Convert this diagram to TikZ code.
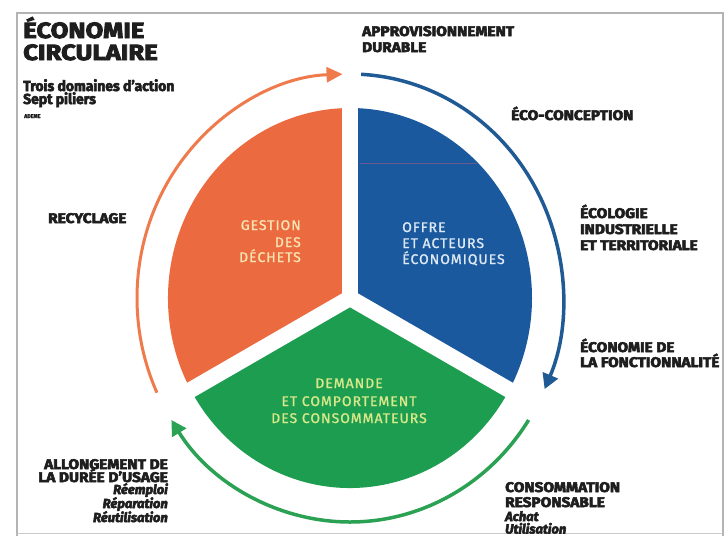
\documentclass[tikz,border=0pt]{standalone}
\usepackage{fontspec}
\setmainfont{Fira Sans}
\newfontfamily\titlefont{Fira Sans}[FakeStretch=1.17,BoldFeatures={FakeBold=4}]
\newfontfamily\capsfont{Fira Sans}[FakeStretch=1.1,BoldFeatures={FakeBold=4}]
\newfontfamily\mixedfont{Fira Sans}[FakeStretch=0.96,BoldFeatures={FakeBold=4}]
\newfontfamily\subfont{Fira Sans}[FakeStretch=1.0,BoldItalicFeatures={FakeBold=4}]
\newfontfamily\wedgefont{Fira Sans}[LetterSpace=7,FakeBold=1.2]
\usetikzlibrary{arrows.meta}
\definecolor{inkdark}{HTML}{1E1E1E}
\definecolor{wedgeorange}{HTML}{EB6A40}
\definecolor{wedgeblue}{HTML}{1B599F}
\definecolor{wedgegreen}{HTML}{1C9D4F}
\definecolor{ringorange}{HTML}{EF7B4C}
\definecolor{ringblue}{HTML}{1F5A95}
\definecolor{ringgreen}{HTML}{2BA153}
\definecolor{textcream}{HTML}{FAE4B2}
\definecolor{textpale}{HTML}{DCE9F5}
\definecolor{textlime}{HTML}{D8E78A}
\definecolor{framegrey}{HTML}{B4B4B4}
\definecolor{streak}{HTML}{8A5A8C}
\tikzset{
  titletext/.style={font=\titlefont\bfseries\fontsize{22}{24}\selectfont, text=inkdark, inner sep=0pt, anchor=base west},
  mixedtext/.style={font=\mixedfont\bfseries\fontsize{14.5}{16}\selectfont, text=inkdark, inner sep=0pt, anchor=base west},
  capstext/.style={font=\capsfont\bfseries\fontsize{14}{16}\selectfont, text=inkdark, inner sep=0pt},
  subtext/.style={font=\subfont\bfseries\itshape\fontsize{13}{15}\selectfont, text=inkdark, inner sep=0pt},
  wedgetext/.style={font=\wedgefont\fontsize{14}{16}\selectfont, inner sep=0pt},
  ringarc/.style={line width=3.5pt, -{Triangle[length=15pt,width=16pt]}},
}
\begin{document}
\begin{tikzpicture}[x=1pt,y=-1pt]
\useasboundingbox (0,0) rectangle (728,536);
\fill[white] (0,0) rectangle (728,536);
% page frame
\draw[framegrey, line width=1.2pt] (17,536) -- (17,13) -- (723,13) -- (723,536);
\draw[framegrey!70, line width=1pt] (17,533) -- (723,533);

\coordinate (C) at (350,298);

% the three sectors
\fill[wedgeorange] (C) -- ++(-210:182 and 190) arc[start angle=-210,end angle=-90,x radius=182,y radius=190] -- cycle;
\fill[wedgeblue] (C) -- ++(-90:182 and 190) arc[start angle=-90,end angle=30,x radius=182,y radius=190] -- cycle;
\fill[wedgegreen] (C) -- ++(30:182 and 190) arc[start angle=30,end angle=150,x radius=182,y radius=190] -- cycle;
\draw[streak, line width=0.8pt, opacity=0.7] (360,163) -- (477,163);
% white gaps between sectors
\foreach \a in {-90,30,150}
  \draw[white, line width=16pt] (C) -- ++(\a:200);

% outer cycle arrows
\draw[ringorange, line width=3pt, -{Triangle[length=16pt,width=15pt]}]
  ([shift={(-205:213 and 224)}]C) arc[start angle=-205,end angle=-92,x radius=213,y radius=224];
\draw[ringblue, ringarc]
  ([shift={(-87:213 and 224)}]C) arc[start angle=-87,end angle=24,x radius=213,y radius=224];
\draw[ringgreen, ringarc]
  ([shift={(33:213 and 224)}]C) arc[start angle=33,end angle=147,x radius=213,y radius=224];

% heading
\node[titletext] (t1) at (23,38) {ÉCONOMIE};
\node[titletext] (t2) at (23,60) {CIRCULAIRE};
\node[mixedtext] (t3) at (23,91) {Trois domaines d’action};
\node[mixedtext] (t4) at (23,104) {Sept piliers};
\node[font=\mixedfont\bfseries\fontsize{5.5}{6}\selectfont, text=inkdark, inner sep=0pt, anchor=base west] (t5) at (24,118) {ADEME};

% sector labels
\node[wedgetext, text=textcream, anchor=base east] (g1) at (301,230) {GESTION};
\node[wedgetext, text=textcream, anchor=base east] (g2) at (301,247) {DES};
\node[wedgetext, text=textcream, anchor=base east] (g3) at (301,262) {DÉCHETS};
\node[wedgetext, text=textpale, anchor=base west] (o1) at (402,232) {OFFRE};
\node[wedgetext, text=textpale, anchor=base west] (o2) at (402,248) {ET ACTEURS};
\node[wedgetext, text=textpale, anchor=base west] (o3) at (402,264) {ÉCONOMIQUES};
\node[wedgetext, text=textlime, anchor=base] (d1) at (349,388) {DEMANDE};
\node[wedgetext, text=textlime, anchor=base] (d2) at (349,406) {ET COMPORTEMENT};
\node[wedgetext, text=textlime, anchor=base] (d3) at (349,423) {DES CONSOMMATEURS};

% pillars around the cycle
\node[capstext, anchor=base west] (a1) at (362,36) {APPROVISIONNEMENT};
\node[capstext, anchor=base west] (a2) at (362,52) {DURABLE};
\node[capstext, anchor=base west] (e1) at (511,120) {ÉCO-CONCEPTION};
\node[capstext, anchor=base west] (i1) at (580,218) {ÉCOLOGIE};
\node[capstext, anchor=base west] (i2) at (580,234) {INDUSTRIELLE};
\node[capstext, anchor=base west] (i3) at (580,250) {ET TERRITORIALE};
\node[capstext, anchor=base west] (f1) at (580,352) {ÉCONOMIE DE};
\node[capstext, anchor=base west] (f2) at (580,367) {LA FONCTIONNALITÉ};
\node[capstext, anchor=base west] (c1) at (505,492) {CONSOMMATION};
\node[capstext, anchor=base west] (c2) at (505,507) {RESPONSABLE};
\node[subtext, anchor=base west] (c3) at (505,521) {Achat};
\node[subtext, anchor=base west] (c4) at (505,533.5) {Utilisation};
\node[capstext, anchor=base east] (u1) at (168,469) {ALLONGEMENT DE};
\node[capstext, anchor=base east] (u2) at (168,482) {LA DURÉE D’USAGE};
\node[subtext, anchor=base east] (u3) at (168,494) {Réemploi};
\node[subtext, anchor=base east] (u4) at (168,508) {Réparation};
\node[subtext, anchor=base east] (u5) at (168,522) {Réutilisation};
\node[capstext, anchor=base west] (r1) at (48,223) {RECYCLAGE};
\end{tikzpicture}
\end{document}
